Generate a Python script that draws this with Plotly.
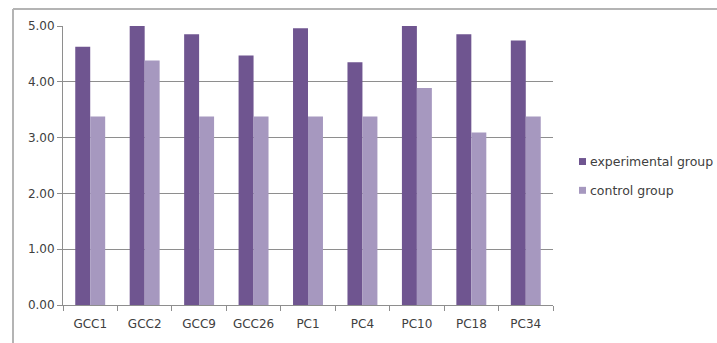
import plotly.graph_objects as go

# Mean scores per item for the two groups
categories = ["GCC1", "GCC2", "GCC9", "GCC26", "PC1", "PC4", "PC10", "PC18", "PC34"]
experimental = [4.63, 5.00, 4.85, 4.47, 4.96, 4.35, 5.00, 4.85, 4.74]
control = [3.38, 4.38, 3.38, 3.38, 3.38, 3.38, 3.89, 3.09, 3.38]
series_names = ["experimental group", "control group"]
y_ticks = [0, 1, 2, 3, 4, 5]
y_tick_labels = ["0.00", "1.00", "2.00", "3.00", "4.00", "5.00"]

W, H = 717, 343
M_L, M_R, M_T, M_B = 63, 164, 26, 36
plot_w = W - M_L - M_R
plot_h = H - M_T - M_B

def px_x(x):
    return (x - M_L) / plot_w

def px_y(y):
    return (H - M_B - y) / plot_h

EXP_COLOR = "#6f5590"
CTL_COLOR = "#a698bf"
GRID = "#8e8e8e"
TEXT = "#404040"
FONT = "DejaVu Sans"
colors = [EXP_COLOR, CTL_COLOR]

fig = go.Figure()
for name, vals, col in zip(series_names, [experimental, control], colors):
    fig.add_trace(go.Bar(
        x=categories, y=vals, name=name,
        marker=dict(color=col, line=dict(width=0)),
        showlegend=False,
    ))

# Chart frame (only top and left edges fall inside the canvas)
fig.add_shape(type="line", xref="paper", yref="paper",
              x0=px_x(13), x1=px_x(W + 5), y0=px_y(9), y1=px_y(9),
              line=dict(color="#b4b4b4", width=2))
fig.add_shape(type="line", xref="paper", yref="paper",
              x0=px_x(13), x1=px_x(13), y0=px_y(9), y1=px_y(H + 5),
              line=dict(color="#b4b4b4", width=2))

# Legend: small square swatches with labels to their right
legend_rows = [162.5, 191.5]
for name, col, row in zip(series_names, colors, legend_rows):
    fig.add_shape(type="rect", xref="paper", yref="paper",
                  x0=px_x(579), x1=px_x(586), y0=px_y(row - 3.5), y1=px_y(row + 3.5),
                  fillcolor=col, line=dict(width=0))
    fig.add_annotation(xref="paper", yref="paper", x=px_x(588), y=px_y(row),
                       xanchor="left", yanchor="middle", showarrow=False,
                       text=name, font=dict(family=FONT, size=12.5, color=TEXT))

fig.update_layout(
    width=W, height=H,
    margin=dict(l=M_L, r=M_R, t=M_T, b=M_B),
    paper_bgcolor="white", plot_bgcolor="white",
    barmode="group", bargap=0.45, bargroupgap=0,
    font=dict(family=FONT, size=12, color=TEXT),
    showlegend=False,
    xaxis=dict(
        showline=True, linecolor=GRID, linewidth=1,
        ticks="outside", tickson="boundaries", ticklen=5, tickcolor=GRID,
        showgrid=False, tickfont=dict(size=12, color=TEXT),
        ticklabelstandoff=8,
    ),
    yaxis=dict(
        range=[0, 5], tickvals=y_ticks, ticktext=y_tick_labels,
        showline=True, linecolor=GRID, linewidth=1,
        ticks="outside", ticklen=5, tickcolor=GRID,
        showgrid=True, gridcolor=GRID, gridwidth=1,
        zeroline=False, tickfont=dict(size=12, color=TEXT),
    ),
)

fig.write_html("out.html")
